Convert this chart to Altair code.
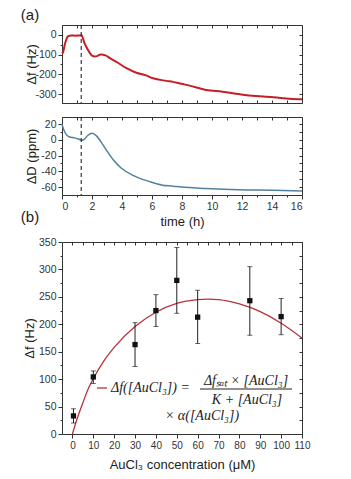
import altair as alt
import pandas as pd

# ---------------- data ----------------
# (a) top: frequency shift vs time
t_f = [0.0, 0.07, 0.2, 0.4, 0.6, 0.9, 1.1, 1.3, 1.5, 1.73, 2.0, 2.2, 2.6, 2.9, 3.2, 3.7,
       4.3, 4.96, 5.6, 6.07, 6.96, 7.4, 7.96, 8.5, 9.6, 10.7, 11.8, 12.9, 14.1, 15.2, 16.0]
df_f = [-95, -88, -45, -8, -3, -4, -3, -2, -42, -76, -105, -110, -100, -104, -118, -140,
        -169, -192, -205, -220, -233, -238, -248, -257, -279, -288, -300, -310, -316, -323, -326]
# (a) bottom: dissipation shift vs time
t_d = [0.0, 0.18, 0.5, 0.84, 1.1, 1.3, 1.5, 1.73, 2.0, 2.3, 2.6, 2.96, 3.4, 3.96, 4.73,
       5.84, 6.7, 7.4, 7.96, 9.6, 11.8, 14.1, 16.0]
dD = [20, 10, 3.7, 2.5, 1, -0.4, 1, 5.8, 8.3, 5, -2.5, -13, -25, -36, -45,
      -53, -57.5, -58.8, -60, -61.7, -63.3, -64, -65]
t_inject = [1.28]

# (b) frequency shift vs AuCl3 concentration
conc = [0.5, 10, 30, 40, 50, 60, 85, 100]
shift = [33, 104, 163, 225, 280, 213, 243, 214]
err_low = [20, 92, 123, 196, 220, 165, 180, 181]
err_high = [46, 115, 203, 254, 340, 262, 305, 247]
# fitted curve
fit_x = [0, 2, 5, 8, 10, 15, 20, 30, 40, 50, 60, 65, 70, 80, 90, 100, 110]
fit_y = [0, 25, 57, 86, 101, 133, 158, 196, 222, 238, 245, 246, 245, 237, 223, 202, 175]

# tick values
t_ticks = list(range(0, 17))
fa_ticks = [-300, -250, -200, -150, -100, -50, 0]
da_ticks = [-60, -50, -40, -30, -20, -10, 0, 10, 20]
cb_major = list(range(0, 111, 10))
cb_ticks = list(range(0, 111, 5))
fb_ticks = list(range(0, 351, 25))

panel_labels = ["(a)", "(b)"]
eq_texts = ["Δf([AuCl₃]) =", "Δfₛₐₜ × [AuCl₃]", "K + [AuCl₃]", "× α([AuCl₃])"]

RED = "#c41e26"
BLUE = "#52809f"
FIT = "#b8323c"
FONT = "Liberation Sans"
W, HA, HB = 240, 78, 192


def main_axis(orient, values, major, title=None, title_x=None, title_pad=None, label_size=10.5):
    kw = dict(orient=orient, values=values, domain=False, grid=False,
              tickColor="#333", tickWidth=1,
              tickSize={"condition": {"test": f"datum.value % {major} === 0", "value": 4}, "value": 2},
              labels=True, labelPadding=2, labelOverlap=False, labelFontSize=label_size,
              labelExpr=f"datum.value % {major} === 0 ? '' + datum.value : ''")
    if title is None:
        kw["title"] = None
    else:
        kw["title"] = title
        kw["titleFontWeight"] = "normal"
        kw["titleFontSize"] = 13
        kw["titleFont"] = FONT
        kw["titleColor"] = "#222"
        if title_x is not None:
            kw["titleX"] = title_x
        if title_pad is not None:
            kw["titlePadding"] = title_pad
    return alt.Axis(**kw)


def mirror_axis(orient, values):
    return alt.Axis(orient=orient, values=values, domain=False, grid=False, labels=False,
                    title=None, tickColor="#333", tickSize=3, offset=-3)


xa_scale = alt.Scale(domain=[0, 16], nice=False, zero=False)


def X(field, scale):
    return alt.X(field, scale=scale, axis=None)


def Y(field, scale):
    return alt.Y(field, scale=scale, axis=None)


# ---------- panel (a) top ----------
a1_data = pd.DataFrame({"t": t_f, "v": df_f})
ya1_scale = alt.Scale(domain=[-345, 50], nice=False, zero=False)
a1_main = alt.Chart(a1_data).mark_line(color=RED, strokeWidth=2, interpolate="monotone").encode(
    x=alt.X("t:Q", scale=xa_scale, axis=mirror_axis("bottom", t_ticks)),
    y=alt.Y("v:Q", scale=ya1_scale, axis=main_axis("left", fa_ticks, 100, "Δf (Hz)", title_x=-24)),
)
a1_mirror = alt.Chart(a1_data).mark_line(opacity=0).encode(
    x=alt.X("t:Q", scale=xa_scale, axis=mirror_axis("top", t_ticks)),
    y=alt.Y("v:Q", scale=ya1_scale, axis=mirror_axis("right", fa_ticks)),
)
a1_dash = alt.Chart(pd.DataFrame({"t": t_inject})).mark_rule(
    color="#111", strokeDash=[4, 3], strokeWidth=1).encode(x=X("t:Q", xa_scale))
a1_label = alt.Chart(pd.DataFrame({"lab": [panel_labels[0]]})).mark_text(
    font=FONT, fontSize=15, color="#222", align="center", baseline="middle").encode(
    x=alt.value(-32), y=alt.value(-10), text="lab:N")
A1 = alt.layer(a1_main, a1_mirror, a1_dash, a1_label).resolve_axis(
    x="independent", y="independent").properties(width=W, height=HA)

# ---------- panel (a) bottom ----------
a2_data = pd.DataFrame({"t": t_d, "v": dD})
ya2_scale = alt.Scale(domain=[-70, 29], nice=False, zero=False)
a2_main = alt.Chart(a2_data).mark_line(color=BLUE, strokeWidth=1.5, interpolate="monotone").encode(
    x=alt.X("t:Q", scale=xa_scale, axis=main_axis("bottom", t_ticks, 2, "time (h)", title_pad=4)),
    y=alt.Y("v:Q", scale=ya2_scale, axis=main_axis("left", da_ticks, 20, "ΔD (ppm)", title_x=-24)),
)
a2_mirror = alt.Chart(a2_data).mark_line(opacity=0).encode(
    x=alt.X("t:Q", scale=xa_scale, axis=mirror_axis("top", t_ticks)),
    y=alt.Y("v:Q", scale=ya2_scale, axis=mirror_axis("right", da_ticks)),
)
a2_dash = alt.Chart(pd.DataFrame({"t": t_inject})).mark_rule(
    color="#111", strokeDash=[4, 3], strokeWidth=1).encode(x=X("t:Q", xa_scale))
a2_label = alt.Chart(pd.DataFrame({"lab": [panel_labels[1]]})).mark_text(
    font=FONT, fontSize=15, color="#222", align="center", baseline="middle").encode(
    x=alt.value(-32), y=alt.value(100), text="lab:N")
A2 = alt.layer(a2_main, a2_mirror, a2_dash, a2_label).resolve_axis(
    x="independent", y="independent").properties(width=W, height=HA)

# ---------- panel (b) ----------
xb_scale = alt.Scale(domain=[-5, 110], nice=False, zero=False)
yb_scale = alt.Scale(domain=[0, 350], nice=False, zero=False)
fit_data = pd.DataFrame({"c": fit_x, "f": fit_y})
pts = pd.DataFrame({"c": conc, "f": shift, "lo": err_low, "hi": err_high})

# labelled x axis (major ticks only) plus a separate minor-tick axis
b_fit = alt.Chart(fit_data).mark_line(color=FIT, strokeWidth=1.3, interpolate="monotone").encode(
    x=alt.X("c:Q", scale=xb_scale,
            axis=alt.Axis(orient="bottom", values=cb_major, domain=False, grid=False,
                          tickColor="#333", tickSize=4, labelPadding=2, labelFontSize=10,
                          labelOverlap=False, labelFlush=False,
                          labelExpr="'' + datum.value",
                          title="AuCl₃ concentration (μM)", titleFontWeight="normal",
                          titleFontSize=13, titleColor="#222", titlePadding=8)),
    y=alt.Y("f:Q", scale=yb_scale, axis=main_axis("left", fb_ticks, 50, "Δf (Hz)", title_x=-26)),
)
b_minor = alt.Chart(fit_data).mark_line(opacity=0).encode(
    x=alt.X("c:Q", scale=xb_scale,
            axis=alt.Axis(orient="bottom", values=cb_ticks, domain=False, grid=False, labels=False,
                          title=None, tickColor="#333", tickSize=2, offset=0)),
    y=Y("f:Q", yb_scale),
)
b_mirror = alt.Chart(fit_data).mark_line(opacity=0).encode(
    x=alt.X("c:Q", scale=xb_scale, axis=mirror_axis("top", cb_ticks)),
    y=alt.Y("f:Q", scale=yb_scale, axis=mirror_axis("right", fb_ticks)),
)
b_err = alt.Chart(pts).mark_rule(color="#222", strokeWidth=1).encode(
    x=X("c:Q", xb_scale), y=Y("lo:Q", yb_scale), y2="hi:Q")
b_cap_lo = alt.Chart(pts).mark_tick(color="#222", orient="horizontal", size=5, thickness=1).encode(
    x=X("c:Q", xb_scale), y=Y("lo:Q", yb_scale))
b_cap_hi = alt.Chart(pts).mark_tick(color="#222", orient="horizontal", size=5, thickness=1).encode(
    x=X("c:Q", xb_scale), y=Y("hi:Q", yb_scale))
b_pts = alt.Chart(pts).mark_square(color="#111", size=28, opacity=1).encode(
    x=X("c:Q", xb_scale), y=Y("f:Q", yb_scale))

one = pd.DataFrame({"k": [0]})
leg_line = alt.Chart(one).mark_rule(color=FIT, strokeWidth=1.3).encode(
    x=alt.value(35), x2=alt.value(45), y=alt.value(146))
frac_bar = alt.Chart(one).mark_rule(color="#222", strokeWidth=1).encode(
    x=alt.value(138), x2=alt.value(230), y=alt.value(147))
eq_style = dict(font="Liberation Serif", fontSize=14, fontStyle="italic", color="#222", baseline="middle")
eq_lhs = alt.Chart(pd.DataFrame({"s": [eq_texts[0]]})).mark_text(align="left", **eq_style).encode(
    x=alt.value(49), y=alt.value(146), text="s:N")
eq_num = alt.Chart(pd.DataFrame({"s": [eq_texts[1]]})).mark_text(align="center", **eq_style).encode(
    x=alt.value(184), y=alt.value(139), text="s:N")
eq_den = alt.Chart(pd.DataFrame({"s": [eq_texts[2]]})).mark_text(align="center", **eq_style).encode(
    x=alt.value(185), y=alt.value(158), text="s:N")
eq_tail = alt.Chart(pd.DataFrame({"s": [eq_texts[3]]})).mark_text(align="center", **eq_style).encode(
    x=alt.value(140), y=alt.value(174), text="s:N")

B = alt.layer(b_fit, b_mirror, b_err, b_cap_lo, b_cap_hi, b_pts,
              leg_line, frac_bar, eq_lhs, eq_num, eq_den, eq_tail).resolve_axis(
    x="independent", y="independent").properties(width=W, height=HB)

top = alt.vconcat(A1, A2, spacing=12)
chart = alt.vconcat(top, B, spacing=7).configure(
    padding={"left": 20, "top": 7, "right": 5, "bottom": 5},
    font=FONT,
).configure_view(stroke="#333", strokeWidth=1).configure_axis(
    labelFont=FONT, labelColor="#333", titleFont=FONT,
)

chart.save("out.html", embed_options={"renderer": "svg", "actions": False})
